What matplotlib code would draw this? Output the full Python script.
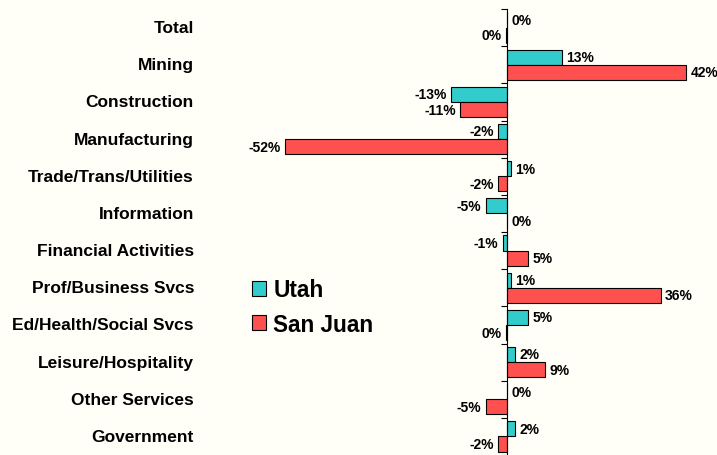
import matplotlib.pyplot as plt
import matplotlib.transforms as mtrans
from matplotlib.patches import Patch
import numpy as np

plt.rcParams['font.family'] = ['Liberation Sans', 'DejaVu Sans']

categories = ["Total", "Mining", "Construction", "Manufacturing",
              "Trade/Trans/Utilities", "Information", "Financial Activities",
              "Prof/Business Svcs", "Ed/Health/Social Svcs", "Leisure/Hospitality",
              "Other Services", "Government"]
utah = [0.1, 13, -13, -2, 1, -5, -1, 1, 5, 2, 0.1, 2]
san_juan = [-0.3, 42, -11, -52, -2, 0.1, 5, 36, -0.3, 9, -5, -2]

bg = '#FFFEF7'
teal = '#33CCCC'
red = '#FF5050'

fig = plt.figure(figsize=(7.17, 4.56), dpi=100, facecolor=bg)
ax = fig.add_axes([240 / 717, 0, 477 / 717, 1 - 10 / 456])
ax.set_facecolor(bg)

y = np.arange(len(categories))
h = 0.41
ax.barh(y - 0.205, utah, height=h, color=teal, edgecolor='black', linewidth=0.8)
ax.barh(y + 0.205, san_juan, height=h, color=red, edgecolor='black', linewidth=0.8)

ax.set_xlim(-62.5, 49.2)
ax.set_ylim(11.44, -0.5)

for s in ['top', 'right', 'bottom']:
    ax.spines[s].set_visible(False)
ax.spines['left'].set_position(('data', 0))
ax.spines['left'].set_linewidth(0.8)
ax.set_xticks([])
ax.set_yticks(np.arange(-0.5, len(categories), 1.0))
ax.tick_params(axis='y', direction='out', length=4, width=0.8, labelleft=False)


def lab(v):
    r = int(round(v))
    if r == 0:
        return "0%"
    return "%d%%" % r


for vals, off in [(utah, -0.205), (san_juan, 0.205)]:
    for i, v in enumerate(vals):
        if v >= 0:
            ax.annotate(lab(v), (v, i + off), xytext=(3, 0), textcoords='offset points',
                        ha='left', va='center', fontsize=10, fontweight='bold')
        else:
            ax.annotate(lab(v), (v, i + off), xytext=(-3, 0), textcoords='offset points',
                        ha='right', va='center', fontsize=10, fontweight='bold')

tr = mtrans.blended_transform_factory(fig.transFigure, ax.transData)
for i, c in enumerate(categories):
    ax.text(194 / 717, i, c, transform=tr, ha='right', va='center',
            fontsize=12.5, fontweight='bold')

handles = [Patch(facecolor=teal, edgecolor='black', linewidth=0.8, label='Utah'),
           Patch(facecolor=red, edgecolor='black', linewidth=0.8, label='San Juan')]
fig.legend(handles=handles, loc='upper left', bbox_to_anchor=(232 / 717, 1 - 259 / 456),
           frameon=False, prop={'size': 16.3, 'weight': 'bold'},
           handlelength=0.62, handleheight=0.62, handletextpad=0.3, labelspacing=0.5)

fig.savefig('out.png', dpi=100, facecolor=bg)
